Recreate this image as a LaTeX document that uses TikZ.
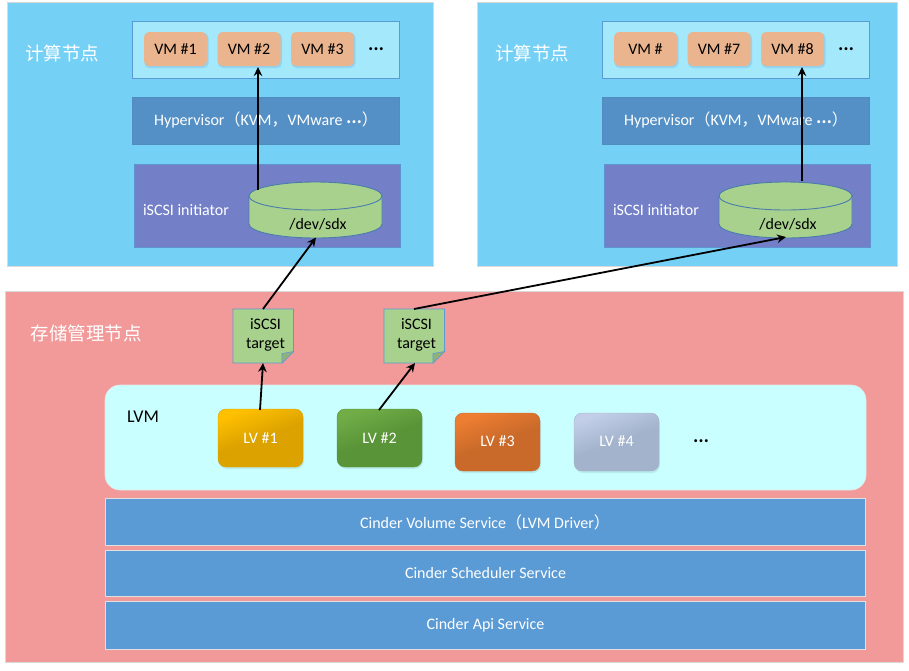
\documentclass[tikz,border=0pt]{standalone}
\usepackage{fontspec}
\setmainfont{Carlito}
\newfontfamily\cjk{Noto Sans CJK SC}
\usetikzlibrary{arrows.meta,calc}
\definecolor{nodeblue}{HTML}{75D0F5}
\definecolor{panel}{HTML}{A3E8FB}
\definecolor{edgeblue}{HTML}{5B9BD5}
\definecolor{hyper}{HTML}{5490C5}
\definecolor{iscsi}{HTML}{7380C8}
\definecolor{vmfill}{HTML}{E9B48E}
\definecolor{green1}{HTML}{A9D18E}
\definecolor{storage}{HTML}{F29A9A}
\definecolor{lvmfill}{HTML}{C9FFFF}
\definecolor{barfill}{HTML}{5B9BD5}
\newcommand{\mdots}{\raisebox{2.2pt}{\cjk\bfseries\fontsize{14}{16}\selectfont ⋯}}
\tikzset{
  x=1pt,y=-1pt,
  t/.style={font=\fontsize{16}{18}\selectfont,inner sep=0pt,anchor=center},
  wt/.style={t,text=white},
  big/.style={font=\cjk\fontsize{18.5}{20}\selectfont,inner sep=0pt,text=white},
  computenode/.style={fill=nodeblue,draw=black!15,line width=.8pt},
  vmpanel/.style={fill=panel,draw=edgeblue,line width=.7pt},
  hyperbox/.style={fill=hyper,draw=edgeblue!90!black,line width=.4pt},
  initbox/.style={fill=iscsi,draw=edgeblue!70!iscsi,line width=.5pt},
  softshadow/.style={fill=edgeblue,opacity=.25,rounded corners=5pt},
  cyl/.style={fill=green1,draw=edgeblue!80!black,line width=.9pt},
  bar/.style={fill=barfill,draw=black!12,line width=.6pt},
  conn/.style={draw=black,line width=1.8pt,-{Stealth[length=9pt,width=8.5pt]}},
}
\newcommand{\computeside}[9]{%
 \begin{scope}[xshift=#1pt]
  \draw[computenode] (7,2) rectangle (433-#9,266);
  \node[big] (#2title) at (62,53) {计算节点};
  \draw[vmpanel] (132.5,21) rectangle (399,78);
  \foreach \xa/\xb in {144/207,217.5/280.5,291/354}{
    \fill[softshadow] (\xa+.5,33) rectangle (\xb+1.5,68);
    \fill[vmfill,rounded corners=5pt] (\xa,32) rectangle (\xb,66);
  }
  \node[t] (#2a) at (175.5,49) {#3};
  \node[t] (#2b) at (249,49) {#4};
  \node[t] (#2c) at (322.5,49) {#5};
  \node[t] (#2d) at (376,50) {\mdots};
  \coordinate (#2target) at (#6,67);
  \draw[hyperbox] (132,97) rectangle (399,144);
  \node[wt] (#2hyper) at (266,120) {Hypervisor{\cjk（}KVM{\cjk，}VMware \mdots{\cjk ）}};
  \draw[initbox] (134,164) rectangle (400,247);
  \node[wt] (#2init) at (186,210) {iSCSI initiator};
  \draw[cyl] (249,196) -- (249,224) arc[start angle=180,end angle=0,x radius=66.5,y radius=14] -- (382,196) -- cycle;
  \draw[cyl] (315.5,196) ellipse[x radius=66.5,y radius=14];
  \node[t,text=black] (#2dev) at (318,224.5) {/dev/sdx};
  \coordinate (#2top) at (#6,#7);
  \draw[conn] (#2top) -- (#2target);
 \end{scope}}
\begin{document}
\begin{tikzpicture}
\useasboundingbox (0,0) rectangle (909,670);
\fill[white] (0,0) rectangle (909,670);
\computeside{0}{l}{VM \#1}{VM \#2}{VM \#3}{258}{190}{316}{0}
\computeside{470}{r}{VM \#}{VM \#7}{VM \#8}{332}{181}{315.5}{6}
% storage
\draw[fill=storage,draw=black!15,line width=.8pt] (5,291) rectangle (903,662);
\node[big] (stitle) at (86,333) {存储管理节点};
\draw[fill=lvmfill,draw=black!10,line width=.6pt,rounded corners=15pt] (105,385) rectangle (866,490);
\node[t,font=\fontsize{18}{20}\selectfont] (lvm) at (143,417) {LVM};
\foreach \xa/\ya/\ca/\cb in {218/409/FFC000/DBA200,337/409/70AD47/5A9438,455/413/ED7D31/C96A2A,574/413/C2CEE8/A3B3CC}{
  \fill[black,opacity=.08,rounded corners=8pt] (\xa+1,\ya+2) rectangle (\xa+86,\ya+60);
  \definecolor{ctop}{HTML}{\ca}\definecolor{cbot}{HTML}{\cb}
  \shade[rounded corners=8pt,draw=cbot,line width=.4pt,top color=ctop,bottom color=cbot,middle color=cbot,shading angle=20] (\xa,\ya) rectangle (\xa+85,\ya+58);
}
\node[wt] (lv1) at (260.5,438) {LV \#1};
\node[wt] (lv2) at (379.5,438) {LV \#2};
\node[wt] (lv3) at (497.5,441) {LV \#3};
\node[wt] (lv4) at (616.5,441) {LV \#4};
\node[t] (more) at (701,442) {\mdots};
% targets
\foreach \x/\nm in {233/a,384/b}{
  \draw[fill=green1,draw=edgeblue,line width=.7pt] (\x,309) -- (\x+60.5,309) -- (\x+60.5,351.5) -- (\x+49,363) -- (\x,363) -- cycle;
  \draw[fill=green1!85!black,draw=edgeblue,line width=.6pt] (\x+60.5,351.5) -- (\x+49,353.5) -- (\x+49,363) -- cycle;
  \node[t,align=center,text=black,font=\fontsize{16}{19}\selectfont] (target\nm) at (\x+32.5,335) {iSCSI\\target};
}
\coordinate (talow) at (263,363);
\coordinate (taup) at (263,309);
\coordinate (tblow) at (415,363);
\coordinate (tbup) at (414,309);
\coordinate (lv1up) at (260,410);
\coordinate (lv2up) at (379,410);
\coordinate (ldev) at (316,237.5);
\coordinate (rdev) at (786,237);
\draw[conn] (lv1up) -- (talow);
\draw[conn] (lv2up) -- (tblow);
\draw[conn] (taup) -- (ldev);
\draw[conn] (tbup) -- (rdev);
% bars
\draw[bar] (105,498) rectangle (865,545);
\draw[bar] (105,550) rectangle (865,596);
\draw[bar] (105,601) rectangle (865,649);
\node[wt] (b1) at (485,522) {Cinder Volume Service{\cjk（}LVM Driver{\cjk）}};
\node[wt] (b2) at (485.5,573) {Cinder Scheduler Service};
\node[wt] (b3) at (485.5,625.5) {Cinder Api Service};
\end{tikzpicture}
\end{document}
